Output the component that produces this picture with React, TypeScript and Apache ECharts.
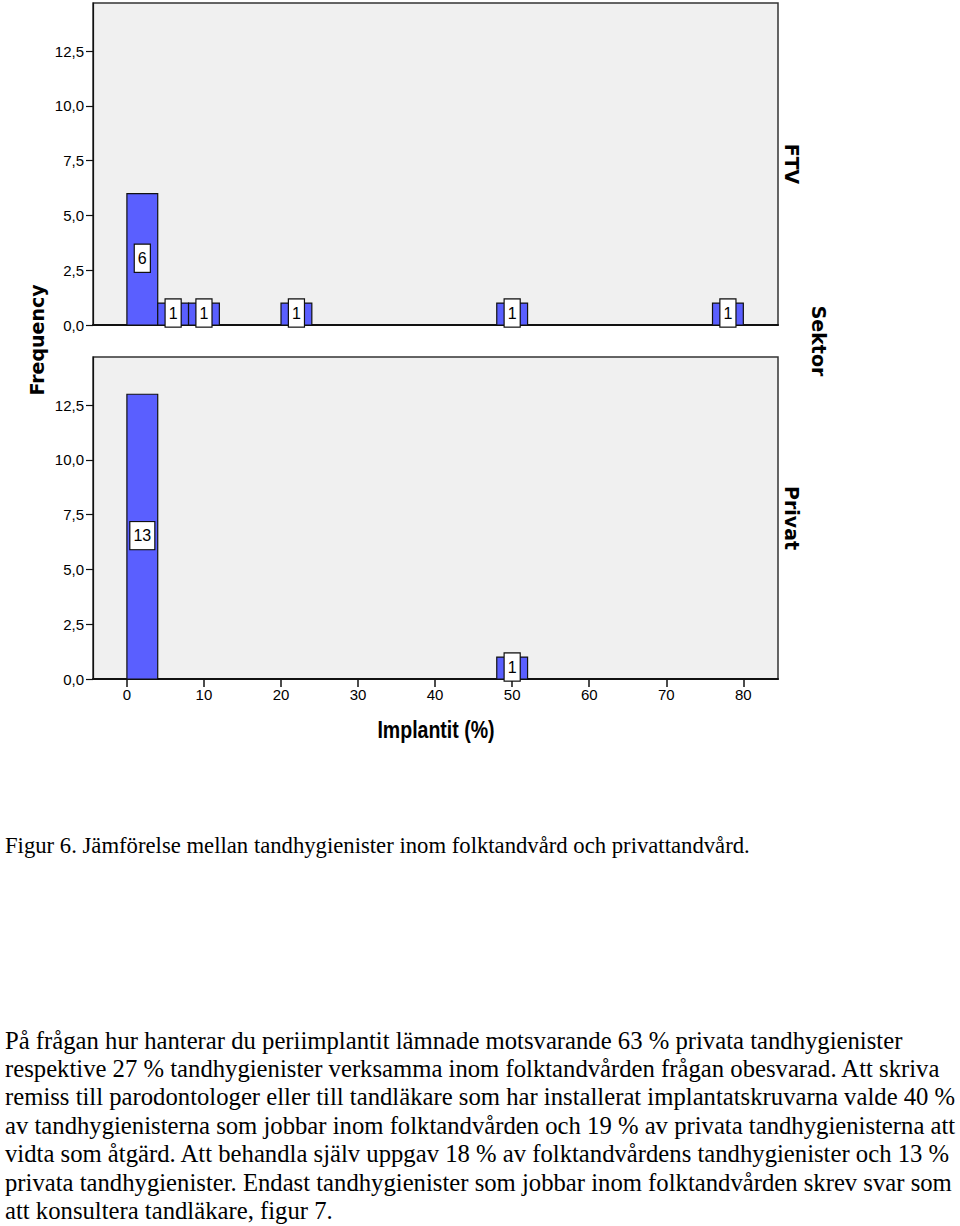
import React, { useEffect, useRef } from "react";
import * as echarts from "echarts";

// Histogram bins (Implantit %), bin width 4
const binWidth = 4;
const ftvBinStarts = [0, 4, 8, 20, 48, 76];
const ftvCounts = [6, 1, 1, 1, 1, 1];
const privatBinStarts = [0, 48];
const privatCounts = [13, 1];

const xTicks = [0, 10, 20, 30, 40, 50, 60, 70, 80];
const yTicks = [0, 2.5, 5, 7.5, 10, 12.5];

const panelNames = ["FTV", "Privat"];
const facetTitle = "Sektor";
const xTitle = "Implantit (%)";
const yTitle = "Frequency";

const caption =
  "Figur 6. Jämförelse mellan tandhygienister inom folktandvård och privattandvård.";
const paragraphLines = [
  "På frågan hur hanterar du periimplantit lämnade motsvarande 63 % privata tandhygienister",
  "respektive 27 % tandhygienister verksamma inom folktandvården frågan obesvarad. Att skriva",
  "remiss till parodontologer eller till tandläkare som har installerat implantatskruvarna valde 40 %",
  "av tandhygienisterna som jobbar inom folktandvården och 19 % av privata tandhygienisterna att",
  "vidta som åtgärd. Att behandla själv uppgav 18 % av folktandvårdens tandhygienister och 13 %",
  "privata tandhygienister. Endast tandhygienister som jobbar inom folktandvården skrev svar som",
  "att konsultera tandläkare, figur 7.",
];

const BAR_COLOR = "#5a5fff";
const SANS = "Liberation Sans, Arial, sans-serif";
const SERIF = "Liberation Serif, 'Times New Roman', serif";

export default function App() {
  const ref = useRef<HTMLDivElement>(null);

  useEffect(() => {
    if (!ref.current) return;
    const chart = echarts.init(ref.current, undefined, { renderer: "svg" });

    const toData = (starts: number[], counts: number[]) =>
      starts.map((s, i) => [s, s + binWidth, counts[i]]);

    const renderItem = (params: any, api: any) => {
      const x0 = api.value(0);
      const x1 = api.value(1);
      const v = api.value(2);
      const p0 = api.coord([x0, v]);
      const p1 = api.coord([x1, 0]);
      const cx = (p0[0] + p1[0]) / 2;
      const cy = (p0[1] + p1[1]) / 2;
      return {
        type: "group",
        children: [
          {
            type: "rect",
            shape: { x: p0[0], y: p0[1], width: p1[0] - p0[0], height: p1[1] - p0[1] },
            style: { fill: BAR_COLOR, stroke: "#111", lineWidth: 1.2 },
          },
          {
            type: "text",
            x: cx,
            y: cy - 1,
            style: {
              text: String(v),
              align: "center",
              verticalAlign: "middle",
              fill: "#000",
              fontSize: 16,
              fontFamily: SANS,
              backgroundColor: "#fff",
              borderColor: "#111",
              borderWidth: 1.2,
              padding: [6, 3, 5, 3],
            },
          },
        ],
      };
    };

    const yFmt = (v: number) => v.toFixed(1).replace(".", ",");

    const makeGrid = (top: number) => ({
      left: 93,
      top,
      width: 685,
      height: 322,
      show: true,
      backgroundColor: "#f0f0f0",
      borderColor: "#333",
      borderWidth: 1.5,
    });

    const makeX = (idx: number, showLabels: boolean) => ({
      type: "value",
      gridIndex: idx,
      min: -4.4,
      max: 84.5,
      splitLine: { show: false },
      axisLine: { show: true, onZero: false, lineStyle: { color: "#111", width: 2 } },
      axisTick: {
        show: showLabels,
        customValues: xTicks,
        length: 8,
        lineStyle: { color: "#111", width: 1.5 },
      },
      axisLabel: {
        show: showLabels,
        customValues: xTicks,
        color: "#000",
        fontSize: 15,
        fontFamily: SANS,
        margin: 8,
      },
    });

    const makeY = (idx: number) => ({
      type: "value",
      gridIndex: idx,
      min: 0,
      max: 14.7,
      splitLine: { show: false },
      axisLine: { show: true, onZero: false, lineStyle: { color: "#111", width: 1.2 } },
      axisTick: {
        show: true,
        customValues: yTicks,
        length: 7,
        lineStyle: { color: "#111", width: 1.2 },
      },
      axisLabel: {
        customValues: yTicks,
        formatter: yFmt,
        color: "#000",
        fontSize: 15,
        fontFamily: SANS,
        margin: 9,
      },
    });

    const graphics: any[] = [
      {
        type: "text",
        x: 37,
        y: 340,
        rotation: Math.PI / 2,
        style: {
          text: yTitle,
          align: "center",
          verticalAlign: "middle",
          font: "bold 19px 'DejaVu Sans', sans-serif",
          fill: "#000",
        },
      },
      {
        type: "text",
        x: 436,
        y: 730,
        scaleX: 0.85,
        style: {
          text: xTitle,
          align: "center",
          verticalAlign: "middle",
          font: `bold 23px ${SANS}`,
          fill: "#000",
        },
      },
      {
        type: "text",
        x: 792,
        y: 164,
        rotation: -Math.PI / 2,
        style: {
          text: panelNames[0],
          align: "center",
          verticalAlign: "middle",
          font: "bold 19px 'DejaVu Sans', sans-serif",
          fill: "#000",
        },
      },
      {
        type: "text",
        x: 819,
        y: 341,
        rotation: -Math.PI / 2,
        style: {
          text: facetTitle,
          align: "center",
          verticalAlign: "middle",
          font: "bold 19px 'DejaVu Sans', sans-serif",
          fill: "#000",
        },
      },
      {
        type: "text",
        x: 792,
        y: 518,
        rotation: -Math.PI / 2,
        style: {
          text: panelNames[1],
          align: "center",
          verticalAlign: "middle",
          font: "bold 19px 'DejaVu Sans', sans-serif",
          fill: "#000",
        },
      },
      {
        type: "text",
        x: 5,
        y: 845,
        style: {
          text: caption,
          align: "left",
          verticalAlign: "middle",
          font: `22.7px ${SERIF}`,
          fill: "#000",
        },
      },
      ...paragraphLines.map((line, i) => ({
        type: "text",
        x: 5,
        y: 1040 + i * 28.4,
        style: {
          text: line,
          align: "left",
          verticalAlign: "middle",
          font: `24.7px ${SERIF}`,
          fill: "#000",
        },
      })),
    ];

    chart.setOption({
      animation: false,
      backgroundColor: "#fff",
      grid: [makeGrid(3), makeGrid(357)],
      xAxis: [makeX(0, false), makeX(1, true)],
      yAxis: [makeY(0), makeY(1)],
      series: [
        {
          type: "custom",
          xAxisIndex: 0,
          yAxisIndex: 0,
          renderItem,
          data: toData(ftvBinStarts, ftvCounts),
          encode: { x: [0, 1], y: 2 },
        },
        {
          type: "custom",
          xAxisIndex: 1,
          yAxisIndex: 1,
          renderItem,
          data: toData(privatBinStarts, privatCounts),
          encode: { x: [0, 1], y: 2 },
        },
      ],
      graphic: graphics,
    });

    return () => chart.dispose();
  }, []);

  return (
    <div
      ref={ref}
      style={{ position: "absolute", left: 0, top: 0, width: 960, height: 1226 }}
    />
  );
}
